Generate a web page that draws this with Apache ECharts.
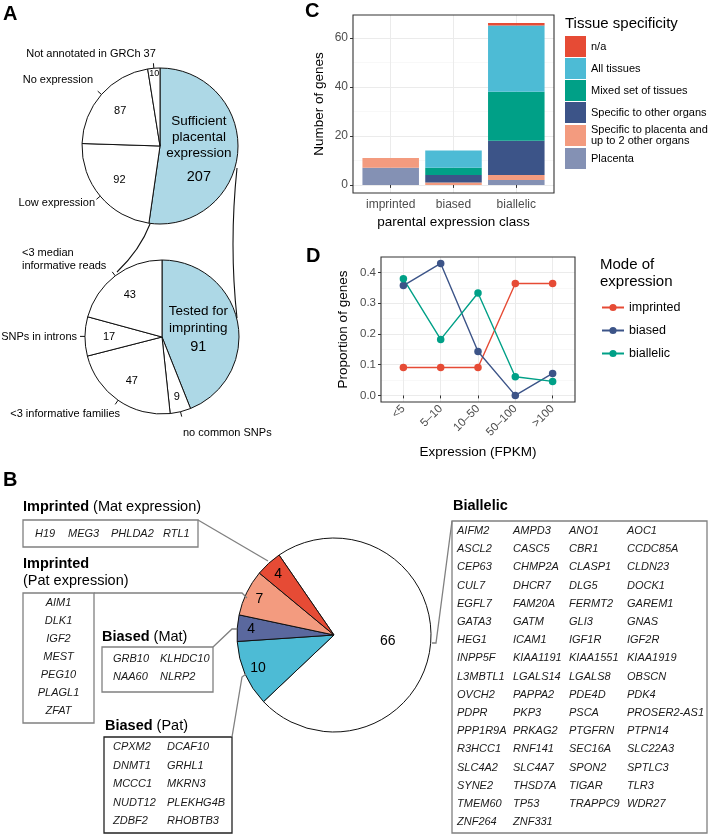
<!DOCTYPE html>
<html><head><meta charset="utf-8">
<script src="https://cdn.jsdelivr.net/npm/echarts@6/dist/echarts.min.js"></script>
<style>html,body{margin:0;padding:0;background:#fff}#c{width:709px;height:835px}</style>
</head><body><div id="c"></div>
<script>
// ---------- Panel A ----------
const topPieNames = ['Sufficient placental expression', 'Low expression', 'No expression', 'Not annotated in GRCh 37'];
const topPieValues = [207, 92, 87, 10];
const botPieNames = ['Tested for imprinting', 'no common SNPs', '<3 informative families', 'SNPs in introns', '<3 median informative reads'];
const botPieValues = [91, 9, 47, 17, 43];
// ---------- Panel B ----------
const classNames = ['Biallelic', 'Biased (Pat)', 'Biased (Mat)', 'Imprinted (Pat expression)', 'Imprinted (Mat expression)'];
const classCounts = [66, 10, 4, 7, 4];
const genesImpMat = ['H19', 'MEG3', 'PHLDA2', 'RTL1'];
const genesImpPat = ['AIM1', 'DLK1', 'IGF2', 'MEST', 'PEG10', 'PLAGL1', 'ZFAT'];
const genesBiasMat = ['GRB10', 'KLHDC10', 'NAA60', 'NLRP2'];
const genesBiasPat = ['CPXM2', 'DCAF10', 'DNMT1', 'GRHL1', 'MCCC1', 'MKRN3', 'NUDT12', 'PLEKHG4B', 'ZDBF2', 'RHOBTB3'];
const genesBiallelic = ['AIFM2','AMPD3','ANO1','AOC1','ASCL2','CASC5','CBR1','CCDC85A','CEP63','CHMP2A','CLASP1','CLDN23',
  'CUL7','DHCR7','DLG5','DOCK1','EGFL7','FAM20A','FERMT2','GAREM1','GATA3','GATM','GLI3','GNAS','HEG1','ICAM1','IGF1R','IGF2R',
  'INPP5F','KIAA1191','KIAA1551','KIAA1919','L3MBTL1','LGALS14','LGALS8','OBSCN','OVCH2','PAPPA2','PDE4D','PDK4',
  'PDPR','PKP3','PSCA','PROSER2-AS1','PPP1R9A','PRKAG2','PTGFRN','PTPN14','R3HCC1','RNF141','SEC16A','SLC22A3',
  'SLC4A2','SLC4A7','SPON2','SPTLC3','SYNE2','THSD7A','TIGAR','TLR3','TMEM60','TP53','TRAPPC9','WDR27','ZNF264','ZNF331'];
// ---------- Panel C ----------
const cCategories = ['imprinted', 'biased', 'biallelic'];
const cTissues = ['Placenta', 'Specific to placenta and up to 2 other organs', 'Specific to other organs', 'Mixed set of tissues', 'All tissues', 'n/a'];
const cPlacenta = [7, 0, 2];
const cSpecPlacenta = [4, 1, 2];
const cOtherOrgans = [0, 3, 14];
const cMixed = [0, 3, 20];
const cAllTissues = [0, 7, 27];
const cNA = [0, 0, 1];
const cYTicks = [0, 20, 40, 60];
// ---------- Panel D ----------
const dCategories = ['<5', '5–10', '10–50', '50–100', '>100'];
const dModes = ['imprinted', 'biased', 'biallelic'];
const dImprinted = [0.0909, 0.0909, 0.0909, 0.3636, 0.3636];
const dBiased = [0.357, 0.429, 0.143, 0.0, 0.0714];
const dBiallelic = [0.379, 0.182, 0.333, 0.0606, 0.0455];
const dYTicks = [0, 0.1, 0.2, 0.3, 0.4];

const FONT = '"Liberation Sans", Arial, Helvetica, sans-serif';
const chart = echarts.init(document.getElementById('c'), null, {renderer: 'canvas'});

function mainPie(center, r, names, values, colors, startAngle) {
  return {type: 'pie', center, radius: [0, r], startAngle, clockwise: true, silent: true, z: 2,
    label: {show: false}, labelLine: {show: false}, emphasis: {disabled: true},
    itemStyle: {borderColor: '#111', borderWidth: 1},
    data: names.map((n, i) => ({name: n, value: values[i], itemStyle: {color: colors[i]}}))};
}
function labelRing(center, r0, r1, names, values, startAngle, show, lab) {
  return {type: 'pie', center, radius: [r0, r1], startAngle, clockwise: true, silent: true, z: 3,
    avoidLabelOverlap: false, emphasis: {disabled: true},
    itemStyle: {color: 'rgba(0,0,0,0)', borderWidth: 0},
    label: Object.assign({show: true, position: 'inside', color: '#000', fontFamily: FONT, formatter: '{c}'}, lab),
    labelLine: {show: false},
    data: names.map((n, i) => ({name: n, value: values[i], label: {show: show.includes(i)}}))};
}
function tickPie(center, r, names, values, startAngle, show) {
  return {type: 'pie', center, radius: [0, r], startAngle, clockwise: true, silent: true, z: 3,
    avoidLabelOverlap: false, emphasis: {disabled: true},
    itemStyle: {color: 'rgba(0,0,0,0)', borderWidth: 0},
    label: {show: true, position: 'outside', formatter: ' ', fontSize: 2},
    labelLine: {show: true, length: 5, length2: 0, smooth: false, lineStyle: {color: '#111', width: 1}},
    data: names.map((n, i) => ({name: n, value: values[i], label: {show: show.includes(i)}, labelLine: {show: show.includes(i)}}))};
}

const series = [];
// Panel A pies
const cTop = [160, 146], rTop = 78, cBot = [162, 337], rBot = 77;
series.push(mainPie(cTop, rTop, topPieNames, topPieValues, ['#add8e6', '#fff', '#fff', '#fff'], 90));
series.push(labelRing(cTop, 0, 72, topPieNames, topPieValues, 90, [0], {
  formatter: p => '{t|Sufficient}\n{t|placental}\n{t|expression}\n{n|' + p.value + '}',
  rich: {t: {fontSize: 13.5, lineHeight: 16, fontFamily: FONT, color: '#000'}, n: {fontSize: 14.5, lineHeight: 23, fontFamily: FONT, color: '#000', verticalAlign: 'bottom'}}}));
series.push(labelRing(cTop, 22, rTop, topPieNames, topPieValues, 90, [1, 2], {fontSize: 11}));
series.push(labelRing(cTop, 62, rTop, topPieNames, topPieValues, 90, [3], {fontSize: 9}));
series.push(tickPie(cTop, rTop, topPieNames, topPieValues, 90, [1, 2, 3]));

series.push(mainPie(cBot, rBot, botPieNames, botPieValues, ['#add8e6', '#fff', '#fff', '#fff', '#fff'], 90));
series.push(labelRing(cBot, 0, 68, botPieNames, botPieValues, 90, [0], {
  formatter: p => '{t|Tested for}\n{t|imprinting}\n{n|' + p.value + '}',
  rich: {t: {fontSize: 13.5, lineHeight: 17, fontFamily: FONT, color: '#000'}, n: {fontSize: 14.5, lineHeight: 21, fontFamily: FONT, color: '#000'}}}));
series.push(labelRing(cBot, 23, rBot, botPieNames, botPieValues, 90, [2, 3, 4], {fontSize: 11}));
series.push(labelRing(cBot, 40, rBot, botPieNames, botPieValues, 90, [1], {fontSize: 11}));
series.push(tickPie(cBot, rBot, botPieNames, botPieValues, 90, [1, 2, 3, 4]));

// Panel B pie
const cB = [334, 635], rB = 97, bStart = 124.5;
series.push(mainPie(cB, rB, classNames, classCounts, ['#ffffff', '#4dbbd5', '#5a689e', '#f39b7f', '#e64b35'], bStart));
series.push(labelRing(cB, 5, rB, classNames, classCounts, bStart, [0], {fontSize: 14}));
series.push(labelRing(cB, 63, rB, classNames, classCounts, bStart, [1, 2, 3, 4], {fontSize: 14}));

// Panel C bars
const cStack = [cPlacenta, cSpecPlacenta, cOtherOrgans, cMixed, cAllTissues, cNA];
const cColors = ['#8491b4', '#f39b7f', '#3c5488', '#00a087', '#4dbbd5', '#e64b35'];
cTissues.forEach((name, i) => series.push({type: 'bar', name, xAxisIndex: 0, yAxisIndex: 0, stack: 'c', barWidth: '90%',
  silent: true, data: cStack[i], itemStyle: {color: cColors[i]}}));

// Panel D lines
const dData = [dImprinted, dBiased, dBiallelic];
const dColors = ['#e64b35', '#3c5488', '#00a087'];
dModes.forEach((name, i) => series.push({type: 'line', name, xAxisIndex: 3, yAxisIndex: 3, data: dData[i], silent: true,
  symbol: 'circle', symbolSize: 7.5, lineStyle: {width: 1.4, color: dColors[i]}, itemStyle: {color: dColors[i]}}));

// ---------- graphics (text, boxes, connectors) ----------
function txt(text, x, y, o) {
  return {type: 'text', x, y, z: 10, silent: true,
    style: Object.assign({text, fontSize: 11, fontFamily: FONT, fill: '#000', align: 'left', verticalAlign: 'middle'}, o || {})};
}
const boldRich = {b: {fontWeight: 'bold', fontSize: 14.5, fontFamily: FONT, fill: '#000'}};
function head(text, x, y) { return txt(text, x, y, {fontSize: 14.5, rich: boldRich}); }
function rect(x, y, w, h, stroke, lw) {
  return {type: 'rect', z: 10, silent: true, shape: {x, y, width: w, height: h}, style: {fill: null, stroke, lineWidth: lw}};
}
function pl(points, stroke, lw) {
  return {type: 'polyline', z: 10, silent: true, shape: {points}, style: {fill: null, stroke, lineWidth: lw}};
}
const gStyle = {fontSize: 11, fontStyle: 'italic', fill: '#1a1a1a'};
const G = [];
// panel letters
G.push(txt('A', 3, 14, {fontSize: 20, fontWeight: 'bold'}));
G.push(txt('B', 3, 480, {fontSize: 20, fontWeight: 'bold'}));
G.push(txt('C', 305, 11, {fontSize: 20, fontWeight: 'bold'}));
G.push(txt('D', 306, 256, {fontSize: 20, fontWeight: 'bold'}));
// Panel A outer labels
G.push(txt('Not annotated in GRCh 37', 91, 54, {align: 'center'}));
G.push(txt('No expression', 93, 80, {align: 'right'}));
G.push(txt('Low expression', 95, 203, {align: 'right'}));
G.push(txt('<3 median\ninformative reads', 22, 259.5, {lineHeight: 13}));
G.push(txt('SNPs in introns', 77, 337, {align: 'right'}));
G.push(txt('<3 informative families', 120, 414, {align: 'right'}));
G.push(txt('no common SNPs', 183, 433));
// Panel A connectors
G.push({type: 'bezierCurve', z: 10, silent: true, shape: {x1: 150, y1: 224, cpx1: 140, cpy1: 250, x2: 117, y2: 272}, style: {fill: null, stroke: '#111', lineWidth: 1.1}});
G.push({type: 'bezierCurve', z: 10, silent: true, shape: {x1: 237, y1: 168, cpx1: 229, cpy1: 245, x2: 237, y2: 318}, style: {fill: null, stroke: '#111', lineWidth: 1.1}});
// Panel C/D borders and legend titles
G.push(rect(353, 15, 201, 178, '#333', 1.1));
G.push(rect(381, 257, 194, 145, '#333', 1.1));
G.push(txt('Tissue specificity', 565, 24, {fontSize: 15}));
G.push(txt('Mode of\nexpression', 600, 273.5, {fontSize: 15, lineHeight: 17}));
// Panel B headers
G.push(head('{b|Imprinted} (Mat expression)', 23, 507));
G.push(head('{b|Imprinted}', 23, 564));
G.push(txt('(Pat expression)', 23, 581, {fontSize: 14.5}));
G.push(head('{b|Biased} (Mat)', 102, 637));
G.push(head('{b|Biased} (Pat)', 105, 726));
G.push(head('{b|Biallelic}', 453, 506));
// Panel B boxes
const grey = '#808080';
G.push(rect(23, 520, 175, 27, grey, 1.3));
G.push(rect(23, 593, 71, 130, grey, 1.3));
G.push(rect(102, 647, 111, 45, grey, 1.3));
G.push(rect(104, 737, 128, 96, '#222', 1.3));
G.push(rect(452, 521, 255, 312, grey, 1.3));
// connectors
G.push(pl([[198, 520], [268, 561]], grey, 1.3));
G.push(pl([[94, 593], [242, 593], [247, 598]], grey, 1.3));
G.push(pl([[213, 647], [232, 629], [237, 629]], grey, 1.3));
G.push(pl([[232, 737], [242, 677], [246, 674]], grey, 1.3));
G.push(pl([[432, 643], [436, 643], [452, 521]], grey, 1.3));
// gene texts
const box1X = [35, 68, 111, 163];
genesImpMat.forEach((g, i) => G.push(txt(g, box1X[i], 533.5, gStyle)));
genesImpPat.forEach((g, i) => G.push(txt(g, 58.5, 603 + 18 * i, Object.assign({align: 'center'}, gStyle))));
const box3X = [113, 160];
genesBiasMat.forEach((g, i) => G.push(txt(g, box3X[i % 2], 659 + 18 * Math.floor(i / 2), gStyle)));
const box4X = [113, 167];
genesBiasPat.forEach((g, i) => G.push(txt(g, box4X[i % 2], 747 + 18.5 * Math.floor(i / 2), gStyle)));
const box5X = [457, 513, 569, 627];
genesBiallelic.forEach((g, i) => G.push(txt(g, box5X[i % 4], 531 + 18.2 * Math.floor(i / 4), gStyle)));

const tickStyle = {show: true, length: 3, lineStyle: {color: '#333', width: 1}};
const gridLine = {show: true, lineStyle: {color: '#ebebeb', width: 1}};
const minorLine = {show: true, lineStyle: {color: '#f3f3f3', width: 0.6}};
const hidden = {axisLine: {show: false}, axisTick: {show: false}, axisLabel: {show: false}, splitLine: {show: false}};

const option = {
  animation: false,
  backgroundColor: '#fff',
  textStyle: {fontFamily: FONT},
  grid: [
    {left: 359.3, top: 15, width: 188.4, height: 178, outerBoundsMode: 'none'},
    {left: 353, top: 37.8, width: 201, height: 147.1, outerBoundsMode: 'none'},
    {left: 390.7, top: 15, width: 125.6, height: 178, outerBoundsMode: 'none'},
    {left: 384.73, top: 257, width: 186.54, height: 145, outerBoundsMode: 'none'},
    {left: 381, top: 272.38, width: 194, height: 123.03, outerBoundsMode: 'none'},
    {left: 403.38, top: 257, width: 149.23, height: 145, outerBoundsMode: 'none'}
  ],
  xAxis: [
    {gridIndex: 0, type: 'category', data: cCategories, boundaryGap: true, axisLine: {show: false},
      axisTick: Object.assign({alignWithLabel: true}, tickStyle), axisLabel: {margin: 6, fontSize: 12, color: '#4d4d4d', interval: 0, hideOverlap: false},
      splitLine: {show: false}, name: 'parental expression class', nameLocation: 'middle', nameGap: 22, nameMoveOverlap: false,
      nameTextStyle: {fontSize: 13.5, color: '#000'}},
    Object.assign({gridIndex: 1, type: 'value', min: 0, max: 1}, hidden),
    Object.assign({gridIndex: 2, type: 'value', min: 1, max: 3, interval: 1}, hidden, {splitLine: gridLine}),
    {gridIndex: 3, type: 'category', data: dCategories, boundaryGap: true, axisLine: {show: false},
      axisTick: Object.assign({alignWithLabel: true}, tickStyle), axisLabel: {margin: 5, fontSize: 11.5, color: '#4d4d4d', rotate: 45, interval: 0},
      splitLine: {show: false}, name: 'Expression (FPKM)', nameLocation: 'middle', nameGap: 43, nameMoveOverlap: false,
      nameTextStyle: {fontSize: 13.5, color: '#000'}},
    Object.assign({gridIndex: 4, type: 'value', min: 0, max: 1}, hidden),
    Object.assign({gridIndex: 5, type: 'value', min: 1, max: 5, interval: 1}, hidden, {splitLine: gridLine})
  ],
  yAxis: [
    Object.assign({gridIndex: 0, type: 'value', min: -3.3, max: 69.3}, hidden,
      {name: 'Number of genes', nameLocation: 'middle', nameGap: 33, nameMoveOverlap: false, nameTextStyle: {fontSize: 13.5, color: '#000'}}),
    {gridIndex: 1, type: 'value', min: cYTicks[0], max: cYTicks[cYTicks.length - 1], interval: cYTicks[1] - cYTicks[0],
      axisLine: {show: false}, axisTick: tickStyle, axisLabel: {margin: 5, fontSize: 12, color: '#4d4d4d'},
      splitLine: gridLine, minorTick: {show: false, splitNumber: 2}, minorSplitLine: minorLine},
    Object.assign({gridIndex: 2, type: 'value', min: 0, max: 1}, hidden),
    Object.assign({gridIndex: 3, type: 'value', min: -0.0214286, max: 0.45}, hidden,
      {name: 'Proportion of genes', nameLocation: 'middle', nameGap: 34, nameMoveOverlap: false, nameTextStyle: {fontSize: 13.5, color: '#000'}}),
    {gridIndex: 4, type: 'value', min: dYTicks[0], max: dYTicks[dYTicks.length - 1], interval: 0.1,
      axisLine: {show: false}, axisTick: tickStyle, axisLabel: {margin: 5, fontSize: 11.5, color: '#4d4d4d', formatter: v => v.toFixed(1)},
      splitLine: gridLine, minorTick: {show: false, splitNumber: 2}, minorSplitLine: minorLine},
    Object.assign({gridIndex: 5, type: 'value', min: 0, max: 1}, hidden)
  ],
  legend: [
    {orient: 'vertical', left: 565, top: 36, itemWidth: 21, itemHeight: 21, itemGap: 1, icon: 'rect', selectedMode: false,
      padding: 0, data: cTissues.slice().reverse(),
      formatter: n => n.replace(' and ', ' and\n'),
      textStyle: {fontSize: 11, lineHeight: 11.5, color: '#000', fontFamily: FONT}},
    {orient: 'vertical', left: 601, top: 301, itemWidth: 22, itemHeight: 9, itemGap: 10, selectedMode: false,
      padding: 0, data: dModes,
      textStyle: {fontSize: 12.5, color: '#000', fontFamily: FONT}}
  ],
  graphic: {elements: G},
  series
};
chart.setOption(option);
</script>
</body></html>
